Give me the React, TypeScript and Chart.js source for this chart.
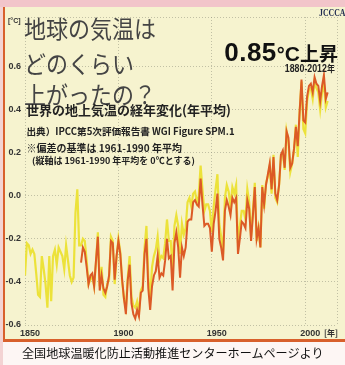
import { useEffect, useRef } from "react";
import { Chart, registerables } from "chart.js";

Chart.register(...registerables);

// Annual global surface temperature anomaly (°C, vs 1961-1990 mean)
const YELLOW_START = 1850;
const yellowValues = [
  -0.37, -0.22, -0.23, -0.27, -0.25, -0.27, -0.36, -0.46, -0.47, -0.28,
  -0.34, -0.41, -0.52, -0.28, -0.49, -0.28, -0.25, -0.32, -0.24, -0.26,
  -0.28, -0.34, -0.23, -0.3, -0.37, -0.4, -0.38, -0.08, 0.03, -0.23,
  -0.23, -0.2, -0.21, -0.3, -0.41, -0.39, -0.37, -0.42, -0.31, -0.17,
  -0.42, -0.33, -0.46, -0.47, -0.41, -0.39, -0.19, -0.21, -0.41, -0.29,
  -0.2, -0.26, -0.4, -0.48, -0.52, -0.38, -0.28, -0.47, -0.51, -0.52,
  -0.49, -0.54, -0.44, -0.42, -0.24, -0.14, -0.38, -0.47, -0.33, -0.28,
  -0.25, -0.19, -0.3, -0.28, -0.29, -0.22, -0.11, -0.21, -0.21, -0.35,
  -0.14, -0.09, -0.14, -0.27, -0.13, -0.18, -0.15, -0.03, -0.01, -0.05,
  0.01, 0.02, -0.03, 0.0, 0.14, 0.03, -0.07, -0.04, -0.04, -0.07,
  -0.17, -0.05, 0.03, 0.1, -0.13, -0.19, -0.27, -0.01, 0.05, 0.02,
  -0.05, 0.04, 0.01, 0.05, -0.22, -0.14, -0.07, -0.07, -0.11, 0.03,
  -0.03, -0.19, -0.07, 0.06, -0.21, -0.15, -0.24, 0.05, -0.06, 0.06,
  0.09, 0.14, 0.01, 0.19, -0.01, -0.03, 0.05, 0.19, 0.2, 0.12,
  0.3, 0.25, 0.11, 0.15, 0.21, 0.33, 0.18, 0.39, 0.53, 0.31,
  0.29, 0.44, 0.49, 0.5, 0.45, 0.53, 0.5, 0.48, 0.4, 0.48,
  0.52, 0.41, 0.44,
];

const ORANGE_START = 1880;
const orangeValues = [
  -0.31, -0.24, -0.26, -0.33, -0.41, -0.37, -0.36, -0.42, -0.3, -0.19,
  -0.44, -0.37, -0.43, -0.45, -0.42, -0.37, -0.21, -0.22, -0.39, -0.28,
  -0.21, -0.27, -0.39, -0.48, -0.55, -0.39, -0.32, -0.5, -0.55, -0.57,
  -0.53, -0.56, -0.45, -0.44, -0.27, -0.2, -0.43, -0.53, -0.42, -0.37,
  -0.35, -0.28, -0.38, -0.36, -0.37, -0.3, -0.2, -0.29, -0.28, -0.44,
  -0.22, -0.17, -0.24, -0.38, -0.24, -0.28, -0.24, -0.12, -0.11, -0.11,
  -0.03, -0.02, -0.04, -0.05, 0.08, -0.04, -0.14, -0.13, -0.13, -0.15,
  -0.26, -0.13, -0.07, 0.01, -0.2, -0.24, -0.3, -0.07, -0.02, -0.05,
  -0.09, -0.01, -0.03, -0.01, -0.27, -0.2, -0.12, -0.13, -0.15, -0.02,
  -0.06, -0.21, -0.09, 0.04, -0.2, -0.15, -0.24, 0.04, -0.04, 0.05,
  0.1, 0.15, 0.03, 0.18, 0.01, -0.02, 0.05, 0.19, 0.21, 0.13,
  0.3, 0.27, 0.13, 0.15, 0.22, 0.32, 0.23, 0.39, 0.54, 0.35,
  0.34, 0.46, 0.51, 0.52, 0.48, 0.55, 0.52, 0.51, 0.44, 0.51,
  0.56, 0.45, 0.48,
];

const yTickValues = [-0.6, -0.4, -0.2, 0, 0.2, 0.4, 0.6];
const xTickValues = [1850, 1900, 1950, 2000];
const X_MIN = 1850;
const X_MAX = 2017;
const Y_MIN = -0.6;
const Y_MAX = 0.83;

const JP = "'Noto Sans CJK JP', 'Noto Sans CJK SC', sans-serif";
const LAT = "'Liberation Sans', Arial, sans-serif";

function abs(style: any): any {
  return { position: "absolute", whiteSpace: "nowrap", lineHeight: 1, ...style };
}

export default function App() {
  const ref = useRef<HTMLCanvasElement | null>(null);

  useEffect(() => {
    const canvas = ref.current;
    if (!canvas) return;
    const chart = new Chart(canvas, {
      type: "line",
      data: {
        datasets: [
          {
            label: "orange",
            data: orangeValues.map((v, i) => ({ x: ORANGE_START + i, y: v })),
            borderColor: "#dc5a26",
            borderWidth: 2,
            pointRadius: 0,
            tension: 0,
          },
          {
            label: "yellow",
            data: yellowValues.map((v, i) => ({ x: YELLOW_START + i, y: v })),
            borderColor: "#ece23a",
            borderWidth: 2.2,
            pointRadius: 0,
            tension: 0,
          },
        ],
      },
      options: {
        animation: false,
        responsive: false,
        maintainAspectRatio: false,
        devicePixelRatio: 1,
        layout: { padding: { top: 17, right: 8, left: 0, bottom: 0 } },
        plugins: { legend: { display: false }, tooltip: { enabled: false } },
        scales: {
          x: {
            type: "linear",
            min: X_MIN,
            max: X_MAX,
            afterBuildTicks: (s: any) => {
              s.ticks = [...xTickValues, X_MAX].map((v) => ({ value: v }));
            },
            afterFit: (s: any) => {
              s.height = 40;
            },
            ticks: {
              callback: (v: any) => (xTickValues.includes(v) ? String(v) : ""),
              font: { family: LAT, size: 9, weight: "bold" },
              color: "#333",
              padding: 3,
              labelOffset: 5,
              maxRotation: 0,
              autoSkip: false,
            },
            grid: { color: "rgba(150,150,130,0.55)", drawTicks: false, lineWidth: 1 },
            border: { display: false, dash: [1, 2] },
          },
          y: {
            min: Y_MIN,
            max: Y_MAX,
            afterBuildTicks: (s: any) => {
              s.ticks = [...yTickValues, Y_MAX].map((v) => ({ value: v }));
            },
            afterFit: (s: any) => {
              s.width = 25;
            },
            ticks: {
              callback: (v: any) => (v > 0.7 ? "" : Number(v).toFixed(1)),
              font: { family: LAT, size: 9, weight: "bold" },
              color: "#333",
              padding: 4,
              autoSkip: false,
            },
            grid: { color: "rgba(150,150,130,0.55)", drawTicks: false, lineWidth: 1 },
            border: { display: false, dash: [1, 2] },
          },
        },
      },
    });
    return () => chart.destroy();
  }, []);

  return (
    <div
      style={{
        position: "absolute",
        left: 0,
        top: 0,
        width: 345,
        height: 365,
        overflow: "hidden",
        background: "#fdf6f4",
      }}
    >
      <div style={abs({ left: 0, top: 0, width: 345, height: 7, background: "#f2c5ca" })} />
      <div style={abs({ left: 0, top: 7, width: 3, height: 358, background: "#f3d3d3" })} />
      <div style={abs({ left: 3, top: 7, width: 342, height: 332, background: "#f6f3cf" })} />
      <div style={abs({ left: 3, top: 7, width: 2, height: 335, background: "#d8602c" })} />
      <div style={abs({ left: 3, top: 339, width: 342, height: 3, background: "#d8602c" })} />

      <canvas
        ref={ref}
        width={345}
        height={365}
        style={{ position: "absolute", left: 0, top: 0, width: 345, height: 365 }}
      />

      <div style={abs({ left: 8, top: 17, fontFamily: LAT, fontSize: 7, fontWeight: "bold", color: "#333" })}>
        [°C]
      </div>
      <div
        style={abs({
          left: 319,
          top: 8,
          fontFamily: "'Liberation Serif', serif",
          fontSize: 10,
          fontWeight: "bold",
          color: "#1f2a50",
          transform: "scaleX(0.78)",
          transformOrigin: "left top",
        })}
      >
        JCCCA
      </div>

      {["地球の気温は", "どのくらい", "上がったの？"].map((t, i) => (
        <div
          key={i}
          style={abs({
            left: 24,
            top: [14.5, 49.5, 80.5][i],
            fontFamily: JP,
            fontSize: 22,
            color: "#444",
            transform: "scaleY(1.1)",
            transformOrigin: "left top",
          })}
        >
          {t}
        </div>
      ))}

      <div
        style={abs({
          right: 7,
          top: 38.6,
          fontFamily: LAT,
          fontSize: 26,
          lineHeight: "26px",
          fontWeight: "bold",
          color: "#111",
        })}
      >
        <span style={{ letterSpacing: 0.5 }}>0.85</span>
        <span style={{ fontSize: 20 }}>°</span>
        <span style={{ fontSize: 21 }}>C</span>
        <span style={{ fontFamily: JP, fontSize: 19 }}>上昇</span>
      </div>
      <div
        style={abs({
          right: 10,
          top: 63.7,
          fontFamily: LAT,
          fontSize: 10,
          fontWeight: "bold",
          color: "#222",
          transform: "scaleX(0.88)",
          transformOrigin: "right top",
        })}
      >
        1880-2012<span style={{ fontFamily: JP, fontSize: 9 }}>年</span>
      </div>

      <div style={abs({ left: 26, top: 103, fontFamily: JP, fontSize: 13, fontWeight: "bold", color: "#222" })}>
        世界の地上気温の経年変化(年平均)
      </div>
      <div style={abs({ left: 26.5, top: 127, fontFamily: JP, fontSize: 9.6, fontWeight: "bold", color: "#222" })}>
        出典）IPCC第5次評価報告書 WGI Figure SPM.1
      </div>
      <div style={abs({ left: 26.5, top: 143, fontFamily: JP, fontSize: 10, fontWeight: "bold", color: "#222" })}>
        ※偏差の基準は 1961-1990 年平均
      </div>
      <div style={abs({ left: 32, top: 156, fontFamily: JP, fontSize: 9, fontWeight: "bold", color: "#222" })}>
        (縦軸は 1961-1990 年平均を 0℃とする)
      </div>

      <div style={abs({ left: 324, top: 329, fontFamily: JP, fontSize: 8, fontWeight: "bold", color: "#333" })}>
        [年]
      </div>

      <div style={abs({ left: 22, top: 347, fontFamily: JP, fontSize: 12.1, color: "#111" })}>
        全国地球温暖化防止活動推進センターホームページより
      </div>
    </div>
  );
}
